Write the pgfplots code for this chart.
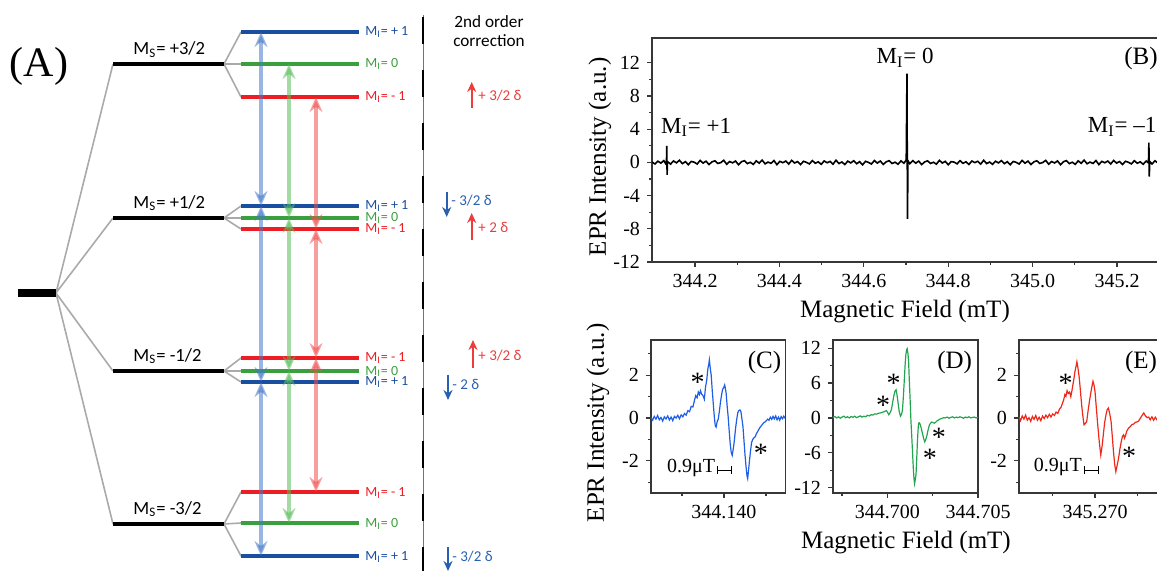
\documentclass[border=0pt]{standalone}
\usepackage{fontspec}
\setmainfont{Liberation Serif}
\newfontfamily\diag{Carlito}
\usepackage{pgfplots}
\pgfplotsset{compat=1.18}
\usetikzlibrary{arrows.meta}

\definecolor{lvblue}{RGB}{25,78,160}
\definecolor{lvgreen}{RGB}{58,160,62}
\definecolor{lvred}{RGB}{236,30,36}
\definecolor{trblue}{RGB}{70,120,200}
\definecolor{trgreen}{RGB}{90,190,90}
\definecolor{trred}{RGB}{240,80,80}
\definecolor{txred}{RGB}{238,60,60}
\definecolor{txblue}{RGB}{40,95,175}
\definecolor{fan}{RGB}{170,170,170}
\definecolor{specC}{RGB}{30,95,230}
\definecolor{specD}{RGB}{35,165,80}
\definecolor{specE}{RGB}{240,40,25}
\definecolor{frame}{RGB}{55,55,55}

\pgfplotsset{
  epr/.style={
    scale only axis, anchor=south west,
    axis line style={frame, line width=0.6pt},
    tick style={frame, line width=0.6pt},
    tick align=outside, xtick pos=left, ytick pos=left,
    major tick length=2.5pt, minor tick length=1.5pt,
    tick label style={font=\rmfamily\fontsize{10}{12}\selectfont},
    label style={font=\rmfamily\fontsize{12.5}{15}\selectfont},
    /pgf/number format/assume math mode=true,
  },
}
\tikzset{
  star/.style={font=\fontsize{14}{15}\selectfont, yshift=-1.8pt},
  lv/.style={line width=2pt},
  tr/.style={line width=1.8pt, opacity=0.55,
    {Stealth[length=7.5pt,width=6.5pt,inset=2.5pt]}-{Stealth[length=7.5pt,width=6.5pt,inset=2.5pt]}},
  dl/.style={line width=0.9pt, -{Stealth[length=5pt,width=4.5pt]}},
}

\begin{document}
\begin{tikzpicture}
\path[use as bounding box] (0,0) rectangle (578.5pt,285.5pt);

% ---------- (A) energy levels, drawn in pixel units ----------
\begin{axis}[at={(0pt,0pt)}, anchor=south west, scale only axis,
  width=290pt, height=285.5pt, xmin=0, xmax=580, ymin=0, ymax=571,
  y dir=reverse, axis lines=none, clip=false]
  % fan lines
  \addplot[fan, line width=0.8pt] coordinates {(113,64) (56,293) (113,218)};
  \addplot[fan, line width=0.8pt] coordinates {(113,371) (56,293) (113,524)};
  \addplot[fan, line width=0.8pt] coordinates {(241,32) (224,64) (241,97)};
  \addplot[fan, line width=0.8pt] coordinates {(224,64) (241,64)};
  \addplot[fan, line width=0.8pt] coordinates {(241,206) (224,218) (241,229)};
  \addplot[fan, line width=0.8pt] coordinates {(224,218) (241,218)};
  \addplot[fan, line width=0.8pt] coordinates {(241,358) (224,371) (241,382)};
  \addplot[fan, line width=0.8pt] coordinates {(224,371) (241,371)};
  \addplot[fan, line width=0.8pt] coordinates {(241,492) (224,524) (241,556)};
  \addplot[fan, line width=0.8pt] coordinates {(224,524) (241,523)};
  % electron spin levels
  \addplot[black, line width=4pt] coordinates {(18,293) (56,293)};
  \addplot[black, lv] coordinates {(113,64) (224,64)};
  \addplot[black, lv] coordinates {(113,218) (224,218)};
  \addplot[black, lv] coordinates {(113,371) (224,371)};
  \addplot[black, lv] coordinates {(113,524) (224,524)};
  % nuclear sublevels
  \addplot[lvblue, lv] coordinates {(241,32) (359,32)};
  \addplot[lvgreen, lv] coordinates {(241,64) (359,64)};
  \addplot[lvred, lv] coordinates {(241,97) (359,97)};
  \addplot[lvblue, lv] coordinates {(241,206) (359,206)};
  \addplot[lvgreen, lv] coordinates {(241,218) (359,218)};
  \addplot[lvred, lv] coordinates {(241,229) (359,229)};
  \addplot[lvred, lv] coordinates {(241,358) (359,358)};
  \addplot[lvgreen, lv] coordinates {(241,371) (359,371)};
  \addplot[lvblue, lv] coordinates {(241,382) (359,382)};
  \addplot[lvred, lv] coordinates {(241,492) (359,492)};
  \addplot[lvgreen, lv] coordinates {(241,523) (359,523)};
  \addplot[lvblue, lv] coordinates {(241,556) (359,556)};
  % EPR transitions
  \addplot[trblue, tr] coordinates {(261,32) (261,206)};
  \addplot[trblue, tr] coordinates {(261,206) (261,382)};
  \addplot[trblue, tr] coordinates {(261,382) (261,556)};
  \addplot[trgreen, tr] coordinates {(289,64) (289,218)};
  \addplot[trgreen, tr] coordinates {(289,218) (289,371)};
  \addplot[trgreen, tr] coordinates {(289,371) (289,523)};
  \addplot[trred, tr] coordinates {(316,97) (316,229)};
  \addplot[trred, tr] coordinates {(316,229) (316,358)};
  \addplot[trred, tr] coordinates {(316,358) (316,492)};
  % separator
  \addplot[black!55, line width=0.4pt] coordinates {(423,15) (423,575)};
  \addplot[black, line width=1.1pt, dash pattern=on 13.5pt off 13pt] coordinates {(423,17) (423,575)};
  % second order shifts
  \addplot[txred, dl] coordinates {(471.7,108) (471.7,82)};
  \addplot[txblue, dl] coordinates {(446.7,192) (446.7,217)};
  \addplot[txred, dl] coordinates {(471.7,240) (471.7,213)};
  \addplot[txred, dl] coordinates {(473,368) (473,340)};
  \addplot[txblue, dl] coordinates {(448,375) (448,400)};
  \addplot[txblue, dl] coordinates {(448,547) (448,571)};

  \node[font=\fontsize{21}{24}\selectfont] at (39,66) {(A)};
  \begin{scope}[every node/.style={font=\diag\fontsize{9.3}{11}\selectfont, anchor=base west, inner sep=0pt}]
    \node at (133,55) {M\textsubscript{S}= +3/2};
    \node at (133,208.5) {M\textsubscript{S}= +1/2};
    \node at (133,361.5) {M\textsubscript{S}= -1/2};
    \node at (133,514.5) {M\textsubscript{S}= -3/2};
  \end{scope}
  \begin{scope}[every node/.style={font=\diag\fontsize{7}{8}\selectfont, anchor=base west, inner sep=0pt}]
    \node[lvblue] at (365,36) {M\textsubscript{I}= + 1};
    \node[lvgreen] at (365,68) {M\textsubscript{I}= 0};
    \node[lvred] at (365,101) {M\textsubscript{I}= - 1};
    \node[lvblue] at (365,210) {M\textsubscript{I}= + 1};
    \node[lvgreen] at (365,222) {M\textsubscript{I}= 0};
    \node[lvred] at (365,233) {M\textsubscript{I}= - 1};
    \node[lvred] at (365,362) {M\textsubscript{I}= - 1};
    \node[lvgreen] at (365,375) {M\textsubscript{I}= 0};
    \node[lvblue] at (365,386) {M\textsubscript{I}= + 1};
    \node[lvred] at (365,496) {M\textsubscript{I}= - 1};
    \node[lvgreen] at (365,527) {M\textsubscript{I}= 0};
    \node[lvblue] at (365,560) {M\textsubscript{I}= + 1};
  \end{scope}
  \begin{scope}[every node/.style={font=\diag\fontsize{7.5}{8}\selectfont, anchor=base west, inner sep=0pt}]
    \node[txred] at (478,101) {+ 3/2 δ};
    \node[txblue] at (451,206) {- 3/2 δ};
    \node[txred] at (478,233) {+ 2 δ};
    \node[txred] at (478,361) {+ 3/2 δ};
    \node[txblue] at (452,389) {- 2 δ};
    \node[txblue] at (452,561) {- 3/2 δ};
  \end{scope}
  \node[font=\diag\fontsize{8.6}{9.6}\selectfont, align=center, inner sep=0pt] at (489,31) {2nd order\\correction};
\end{axis}

% ---------- (B) full spectrum ----------
\begin{axis}[epr, at={(326pt,154.5pt)}, width=253.5pt, height=112pt,
  xmin=0.098, xmax=1.2995, ymin=-12, ymax=15,
  xtick={0.2,0.4,0.6,0.8,1.0,1.2},
  xticklabels={344.2,344.4,344.6,344.8,345.0,345.2},
  minor x tick num=1,
  ytick={-12,-8,-4,0,4,8,12},
  yticklabels={-12,-8,-4,0,4,8,12},
  minor y tick num=1,
  xlabel={Magnetic Field (mT)}, ylabel={EPR Intensity (a.u.)},
  xlabel style={at={(axis description cs:0.499,-0.223)}, anchor=center},
  ylabel style={at={(axis description cs:-0.1026,0.469)}, anchor=center}]
  \addplot[black, line width=0.8pt] coordinates {
    (0.098,0.05) (0.105,-0.18) (0.112,0.15) (0.119,-0.08) (0.126,0.22) (0.130,-0.12)
    (0.1323,0.15) (0.1330,2.0) (0.1338,-1.5) (0.1345,0.1)
    (0.142,-0.2) (0.149,0.18) (0.156,-0.05) (0.163,0.26) (0.170,-0.15) (0.177,0.09)
    (0.184,-0.27) (0.191,0.12) (0.198,0.03) (0.205,-0.19) (0.212,0.24) (0.219,-0.08)
    (0.226,0.15) (0.233,-0.25) (0.240,0.06) (0.247,0.20) (0.254,-0.12) (0.261,-0.02)
    (0.268,0.26) (0.275,-0.22) (0.282,0.11) (0.289,-0.05) (0.296,0.17) (0.303,-0.28)
    (0.310,0.08) (0.317,0.21) (0.324,-0.14) (0.331,0.02) (0.338,-0.24) (0.345,0.19)
    (0.352,-0.09) (0.359,0.28) (0.366,-0.17) (0.373,0.04) (0.380,-0.11) (0.387,0.23)
    (0.394,-0.27) (0.401,0.13) (0.408,-0.03) (0.415,0.16) (0.422,-0.20) (0.429,0.25)
    (0.436,-0.07) (0.443,0.10) (0.450,-0.26) (0.457,0.14) (0.464,0.01) (0.471,-0.18)
    (0.478,0.22) (0.485,-0.10) (0.492,0.07) (0.499,-0.23) (0.506,0.18) (0.513,-0.04)
    (0.520,0.12) (0.527,-0.21) (0.534,0.27) (0.541,-0.13) (0.548,0.05) (0.555,-0.25)
    (0.562,0.16) (0.569,-0.06) (0.576,0.20) (0.583,-0.16) (0.590,0.09) (0.597,-0.29)
    (0.604,0.14) (0.611,0.00) (0.618,-0.19) (0.625,0.23) (0.632,-0.08) (0.639,0.17)
    (0.646,-0.24) (0.653,0.07) (0.660,0.21) (0.667,-0.13) (0.674,0.03) (0.681,-0.22)
    (0.688,0.19) (0.695,-0.10)
    (0.7005,0.3) (0.7022,10.7) (0.7034,-6.8) (0.7046,0.2)
    (0.709,-0.15) (0.716,0.22) (0.723,-0.09) (0.730,0.16) (0.737,-0.26) (0.744,0.06)
    (0.751,0.19) (0.758,-0.12) (0.765,0.02) (0.772,-0.21) (0.779,0.25) (0.786,-0.07)
    (0.793,0.13) (0.800,-0.28) (0.807,0.10) (0.814,0.04) (0.821,-0.17) (0.828,0.21)
    (0.835,-0.11) (0.842,0.08) (0.849,-0.24) (0.856,0.17) (0.863,-0.02) (0.870,0.14)
    (0.877,-0.20) (0.884,0.26) (0.891,-0.14) (0.898,0.05) (0.905,-0.23) (0.912,0.15)
    (0.919,-0.06) (0.926,0.22) (0.933,-0.15) (0.940,0.09) (0.947,-0.27) (0.954,0.12)
    (0.961,0.01) (0.968,-0.19) (0.975,0.24) (0.982,-0.09) (0.989,0.16) (0.996,-0.25)
    (1.003,0.07) (1.010,0.20) (1.017,-0.12) (1.024,-0.01) (1.031,0.25) (1.038,-0.21)
    (1.045,0.11) (1.052,-0.06) (1.059,0.18) (1.066,-0.27) (1.073,0.08) (1.080,0.22)
    (1.087,-0.14) (1.094,0.03) (1.101,-0.23) (1.108,0.19) (1.115,-0.10) (1.122,0.27)
    (1.129,-0.16) (1.136,0.04) (1.143,-0.12) (1.150,0.23) (1.157,-0.26) (1.164,0.13)
    (1.171,-0.04) (1.178,0.16) (1.185,-0.19) (1.192,0.24) (1.199,-0.08) (1.206,0.11)
    (1.213,-0.25) (1.220,0.14) (1.227,0.02) (1.234,-0.18) (1.241,0.21) (1.248,-0.10)
    (1.255,0.07) (1.262,-0.22) (1.269,0.17)
    (1.2745,-0.05) (1.2755,2.4) (1.2765,-1.7) (1.2775,0.1)
    (1.283,-0.18) (1.290,0.20) (1.297,-0.08) (1.304,0.12)
  };
  \node[font=\fontsize{12.5}{15}\selectfont] at (axis cs:1.257,12.5) {(B)};
  \node[font=\fontsize{11.5}{14}\selectfont] at (axis cs:0.698,12.6) {M\textsubscript{I}= 0};
  \node[font=\fontsize{11.5}{14}\selectfont] at (axis cs:0.2024,4.2) {M\textsubscript{I}= +1};
  \node[font=\fontsize{11.5}{14}\selectfont] at (axis cs:1.212,4.3) {M\textsubscript{I}= --1};
\end{axis}

% ---------- (C) M_I = +1 line ----------
\begin{axis}[epr, at={(325.45pt,39pt)}, width=67.2pt, height=76.5pt,
  xmin=-4.35, xmax=3.65, ymin=-3.5, ymax=3.65,
  xtick={0}, xticklabels={344.140}, minor xtick={-2.5,2.5},
  ytick={-2,0,2}, yticklabels={-2,0,2}, minor ytick={-3,-1,1,3},
  ylabel={EPR Intensity (a.u.)},
  ylabel style={at={(axis description cs:-0.394,0.458)}, anchor=center}]
  \addplot[specC, line width=0.6pt] coordinates {
    (-4.35,0.02) (-4.25,-0.10) (-4.15,0.08) (-4.05,-0.05) (-3.95,0.12) (-3.85,-0.08)
    (-3.75,0.03) (-3.65,-0.14) (-3.55,0.06) (-3.45,-0.04) (-3.35,0.10) (-3.25,-0.09)
    (-3.15,0.05) (-3.05,-0.12) (-2.95,0.08) (-2.85,0.00) (-2.75,0.13) (-2.65,-0.03)
    (-2.55,0.15) (-2.45,0.06) (-2.35,0.22) (-2.25,0.14) (-2.15,0.35) (-2.05,0.30)
    (-1.95,0.55) (-1.85,0.52) (-1.75,0.85) (-1.68,1.05) (-1.60,0.95) (-1.53,1.22)
    (-1.46,1.10) (-1.40,1.28) (-1.33,1.12) (-1.25,1.05) (-1.17,0.88) (-1.10,1.45)
    (-1.03,1.75) (-0.96,2.30) (-0.90,2.55) (-0.87,2.72) (-0.82,2.35) (-0.76,2.00)
    (-0.70,1.30) (-0.64,0.70) (-0.58,0.10) (-0.52,-0.35) (-0.47,-0.42) (-0.40,-0.15)
    (-0.34,-0.05) (-0.27,0.35) (-0.20,0.80) (-0.14,1.10) (-0.08,1.35) (-0.02,1.42)
    (0.04,1.55) (0.08,1.40) (0.13,1.15) (0.19,0.55) (0.25,0.05) (0.31,-0.60)
    (0.37,-1.20) (0.43,-1.60) (0.49,-1.74) (0.55,-1.45) (0.61,-1.10) (0.68,-0.55)
    (0.75,-0.10) (0.82,0.25) (0.88,0.35) (0.95,0.38) (1.01,0.30) (1.07,-0.05)
    (1.13,-0.40) (1.19,-1.05) (1.25,-1.70) (1.31,-2.25) (1.37,-2.70) (1.41,-2.83)
    (1.46,-2.45) (1.51,-2.05) (1.57,-1.60) (1.64,-1.15) (1.71,-1.00) (1.78,-0.92)
    (1.85,-0.88) (1.92,-0.75) (1.99,-0.65) (2.06,-0.55) (2.13,-0.45) (2.20,-0.38)
    (2.28,-0.30) (2.36,-0.22) (2.44,-0.18) (2.52,-0.12) (2.60,-0.05) (2.68,-0.10)
    (2.76,0.04) (2.84,-0.06) (2.92,0.08) (3.00,-0.04) (3.08,0.10) (3.16,-0.08)
    (3.24,0.05) (3.32,-0.10) (3.40,0.07) (3.48,-0.03) (3.56,0.09) (3.65,-0.02)
  };
  \node[font=\fontsize{12.5}{15}\selectfont] at (axis cs:2.41,2.6) {(C)};
  \node[star] at (axis cs:-1.57,1.86) {*};
  \node[star] at (axis cs:2.20,-1.50) {*};
  \draw[black, line width=0.5pt, {Bar[width=4pt]}-{Bar[width=4pt]}] (axis cs:-0.43,-2.44) -- (axis cs:0.49,-2.44);
  \node[font=\fontsize{10}{12}\selectfont, anchor=base east, inner sep=0.5pt] at (axis cs:-0.45,-2.52) {0.9μT};
\end{axis}

% ---------- (D) M_I = 0 line ----------
\begin{axis}[epr, at={(416.5pt,39pt)}, width=72.5pt, height=76.5pt,
  xmin=-3, xmax=5, ymin=-12.9, ymax=13.4,
  xtick={0,5}, xticklabels={344.700,344.705}, minor xtick={-2.5,2.5},
  ytick={-12,-6,0,6,12}, yticklabels={-12,-6,0,6,12},
  minor ytick={-9,-3,3,9},
  xlabel={Magnetic Field (mT)},
  xlabel style={at={(axis description cs:0.503,-0.327)}, anchor=center}]
  \addplot[specD, line width=0.6pt] coordinates {
    (-3.0,0.1) (-2.9,0.25) (-2.8,0.0) (-2.7,0.2) (-2.6,-0.05) (-2.5,0.15) (-2.4,0.3)
    (-2.3,0.05) (-2.2,0.2) (-2.1,0.0) (-2.0,0.25) (-1.9,0.1) (-1.8,0.3) (-1.7,0.05)
    (-1.6,0.2) (-1.5,0.35) (-1.4,0.15) (-1.3,0.3) (-1.2,0.2) (-1.1,0.45) (-1.0,0.35)
    (-0.9,0.55) (-0.8,0.5) (-0.7,0.7) (-0.6,0.65) (-0.5,0.8) (-0.4,0.85) (-0.3,0.95)
    (-0.2,1.05) (-0.1,1.2) (-0.05,1.25) (0.02,0.9) (0.08,0.55) (0.15,0.9) (0.22,1.4)
    (0.30,2.8) (0.36,3.9) (0.42,4.6) (0.48,4.85) (0.53,4.0) (0.59,2.6) (0.65,1.2)
    (0.72,0.3) (0.78,0.6) (0.83,1.3) (0.88,3.5) (0.93,6.3) (0.98,9.2) (1.02,10.9)
    (1.06,11.7) (1.09,11.9) (1.13,11.2) (1.17,9.8) (1.21,6.5) (1.26,2.8) (1.30,-0.5)
    (1.34,-2.9) (1.39,-6.0) (1.43,-8.6) (1.47,-10.5) (1.50,-11.3) (1.54,-10.6)
    (1.58,-9.7) (1.62,-7.0) (1.65,-4.6) (1.69,-2.2) (1.72,-0.9) (1.77,-0.85)
    (1.82,-1.2) (1.88,-1.9) (1.93,-2.6) (2.00,-3.5) (2.06,-4.1) (2.12,-3.7)
    (2.19,-2.9) (2.25,-2.0) (2.32,-1.2) (2.38,-0.9) (2.44,-0.7) (2.52,-0.8)
    (2.59,-0.9) (2.66,-0.75) (2.74,-0.5) (2.82,-0.35) (2.9,-0.2) (3.0,-0.1)
    (3.1,0.05) (3.19,0.0) (3.3,0.15) (3.4,-0.05) (3.5,0.1) (3.6,0.2) (3.7,0.0)
    (3.8,0.15) (3.9,0.05) (4.0,0.2) (4.1,0.1) (4.2,-0.05) (4.3,0.15) (4.4,0.05)
    (4.5,0.2) (4.6,0.0) (4.7,0.1) (4.8,0.15) (4.9,0.0) (5.0,0.1)
  };
  \node[font=\fontsize{12.5}{15}\selectfont] at (axis cs:3.71,9.57) {(D)};
  \node[star] at (axis cs:-0.24,2.85) {*};
  \node[star] at (axis cs:0.35,6.57) {*};
  \node[star] at (axis cs:2.34,-6.3) {*};
  \node[star] at (axis cs:2.84,-2.74) {*};
\end{axis}

% ---------- (E) M_I = -1 line ----------
\begin{axis}[epr, at={(509.5pt,39pt)}, width=70.5pt, height=76.5pt,
  xmin=-4.49, xmax=3.84, ymin=-3.5, ymax=3.65,
  xtick={0}, xticklabels={345.270}, minor xtick={-2.5,2.5},
  ytick={-2,0,2}, yticklabels={-2,0,2}, minor ytick={-3,-1,1,3}]
  \addplot[specE, line width=0.6pt] coordinates {
    (-4.49,0.05) (-4.40,-0.12) (-4.30,0.10) (-4.20,-0.05) (-4.10,0.14) (-4.00,-0.10)
    (-3.90,0.02) (-3.80,-0.15) (-3.70,0.08) (-3.60,-0.06) (-3.50,0.12) (-3.40,-0.10)
    (-3.30,0.04) (-3.20,-0.12) (-3.10,0.10) (-3.00,-0.02) (-2.90,0.14) (-2.80,0.02)
    (-2.70,0.18) (-2.60,0.05) (-2.50,0.20) (-2.40,0.12) (-2.30,0.28) (-2.20,0.22)
    (-2.10,0.42) (-2.00,0.52) (-1.92,0.70) (-1.85,0.85) (-1.78,1.10) (-1.72,1.02)
    (-1.65,1.28) (-1.58,1.15) (-1.50,1.22) (-1.43,1.00) (-1.36,1.30) (-1.27,1.72)
    (-1.18,2.20) (-1.10,2.50) (-1.07,2.63) (-1.00,2.30) (-0.93,1.88) (-0.86,1.25)
    (-0.79,0.62) (-0.72,0.10) (-0.65,-0.31) (-0.57,-0.25) (-0.49,-0.16) (-0.40,0.40)
    (-0.30,0.94) (-0.20,1.40) (-0.12,1.72) (-0.06,1.55) (0.00,1.25) (0.08,0.45)
    (0.16,-0.31) (0.25,-1.10) (0.34,-1.72) (0.42,-1.30) (0.49,-0.78) (0.57,-0.20)
    (0.65,0.16) (0.72,0.40) (0.79,0.47) (0.87,0.20) (0.95,-0.16) (1.02,-0.85)
    (1.09,-1.56) (1.16,-2.15) (1.23,-2.50) (1.31,-2.20) (1.39,-1.88) (1.47,-1.45)
    (1.55,-1.10) (1.62,-0.85) (1.69,-0.78) (1.74,-0.94) (1.79,-0.85) (1.88,-0.60)
    (1.98,-0.47) (2.08,-0.40) (2.18,-0.30) (2.28,-0.28) (2.38,-0.20) (2.48,-0.18)
    (2.58,-0.13) (2.68,0.00) (2.78,0.12) (2.88,0.24) (2.98,0.10) (3.08,0.02)
    (3.17,0.05) (3.26,-0.08) (3.36,0.06) (3.46,-0.10) (3.56,0.04) (3.66,-0.08)
    (3.76,0.05) (3.84,-0.04)
  };
  \node[font=\fontsize{12.5}{15}\selectfont] at (axis cs:2.72,2.62) {(E)};
  \node[star] at (axis cs:-1.73,1.80) {*};
  \node[star] at (axis cs:2.02,-1.60) {*};
  \draw[black, line width=0.5pt, {Bar[width=4pt]}-{Bar[width=4pt]}] (axis cs:-0.68,-2.43) -- (axis cs:0.24,-2.43);
  \node[font=\fontsize{10}{12}\selectfont, anchor=base east, inner sep=0.5pt] at (axis cs:-0.70,-2.51) {0.9μT};
\end{axis}
\end{tikzpicture}
\end{document}
